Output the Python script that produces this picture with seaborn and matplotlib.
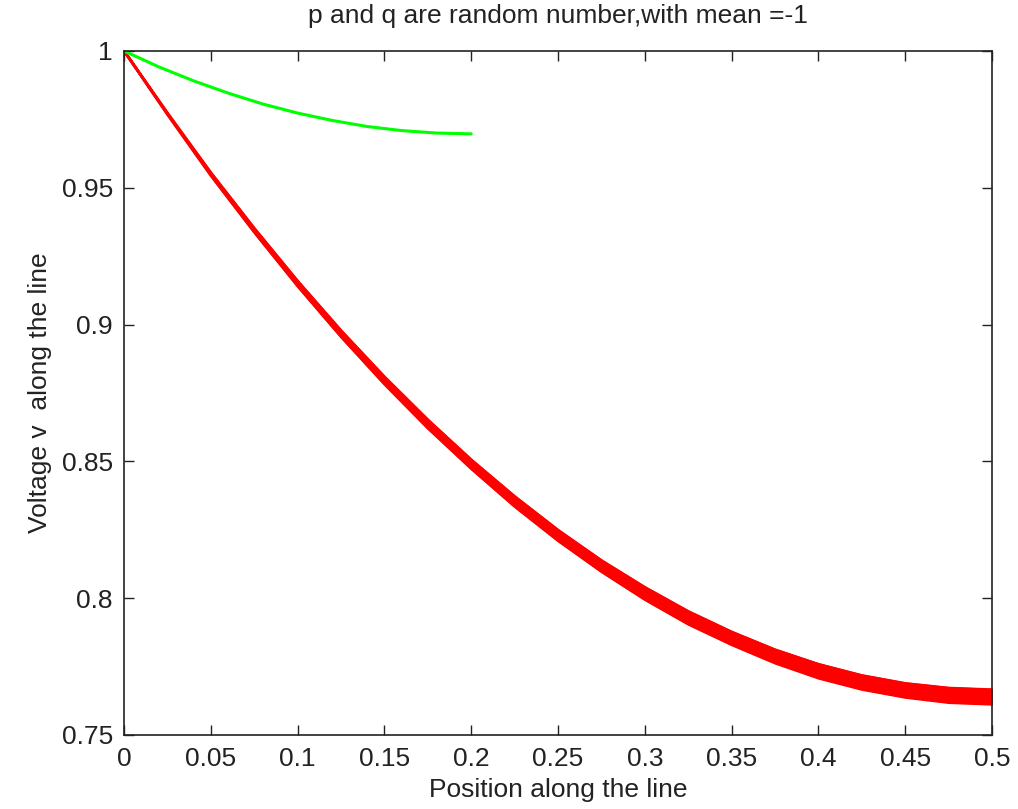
import matplotlib
matplotlib.use("Agg")
import matplotlib.pyplot as plt
from matplotlib.ticker import FuncFormatter
import seaborn as sns
import pandas as pd

# values
red_x = [0.0, 0.025, 0.05, 0.075, 0.1, 0.125, 0.15, 0.175, 0.2, 0.225, 0.25,
         0.275, 0.3, 0.325, 0.35, 0.375, 0.4, 0.425, 0.45, 0.475, 0.5]
red_mid = [1.000, 0.977, 0.955, 0.9345, 0.915, 0.8967, 0.8796, 0.8637, 0.849, 0.8354, 0.823,
           0.8118, 0.8018, 0.7929, 0.7854, 0.7788, 0.7734, 0.7693, 0.7664, 0.7646, 0.764]
red_upper = [1.0000, 0.9773, 0.9555, 0.9352, 0.9159, 0.8978, 0.8809, 0.8652, 0.8506, 0.8372, 0.8249,
             0.8138, 0.8040, 0.7952, 0.7877, 0.7812, 0.7759, 0.7718, 0.7689, 0.7672, 0.7666]
red_lower = [1.0000, 0.9768, 0.9545, 0.9338, 0.9141, 0.8956, 0.8783, 0.8622, 0.8474, 0.8336, 0.8211,
             0.8098, 0.7996, 0.7906, 0.7831, 0.7764, 0.7709, 0.7668, 0.7639, 0.7620, 0.7614]

green_x = [0.0, 0.02, 0.04, 0.06, 0.08, 0.1, 0.12, 0.14, 0.16, 0.18, 0.2]
green_v = [1.0, 0.9942, 0.9891, 0.9846, 0.9806, 0.9773, 0.9746, 0.9724, 0.9709, 0.9700, 0.9697]

x_ticks = [0, 0.05, 0.1, 0.15, 0.2, 0.25, 0.3, 0.35, 0.4, 0.45, 0.5]
y_ticks = [0.75, 0.8, 0.85, 0.9, 0.95, 1]

sns.set_style("ticks")
plt.rcParams["font.family"] = ["Liberation Sans", "DejaVu Sans"]

fig = plt.figure(figsize=(10.18, 8.09), dpi=100)
ax = fig.add_axes([0.1218, 0.0915, 0.8527, 0.8455])

red_df = pd.DataFrame({"x": red_x, "mid": red_mid, "lo": red_lower, "hi": red_upper})
green_df = pd.DataFrame({"x": green_x, "v": green_v})

# red band: spread of many runs, drawn as envelope + edges
ax.fill_between(red_df["x"], red_df["lo"], red_df["hi"], color="#ff0000", linewidth=2.0)
sns.lineplot(data=red_df, x="x", y="hi", color="#ff0000", linewidth=1.8, ax=ax)
sns.lineplot(data=red_df, x="x", y="lo", color="#ff0000", linewidth=1.8, ax=ax)
sns.lineplot(data=green_df, x="x", y="v", color="#00ff00", linewidth=2.2, ax=ax)

ax.set_xlim(0, 0.5)
ax.set_ylim(0.75, 1)
ax.set_xticks(x_ticks)
ax.set_yticks(y_ticks)
fmt = FuncFormatter(lambda v, p: "%g" % v)
ax.xaxis.set_major_formatter(fmt)
ax.yaxis.set_major_formatter(fmt)
ax.tick_params(direction="in", length=7, width=1, top=True, right=True,
               labelsize=19, color="#222222", labelcolor="#222222")
ax.tick_params(axis="x", pad=9)
ax.tick_params(axis="y", pad=8)
for s in ax.spines.values():
    s.set_visible(True)
    s.set_linewidth(1.2)
    s.set_color("#222222")

ax.set_title("p and q are random number,with mean =-1", fontsize=19, color="#222222", pad=20)
ax.set_xlabel("Position along the line", fontsize=19, color="#222222", labelpad=5)
ax.set_ylabel("Voltage v  along the line", fontsize=19, color="#222222", labelpad=7)

fig.savefig("out.png", dpi=100)
plt.close(fig)
